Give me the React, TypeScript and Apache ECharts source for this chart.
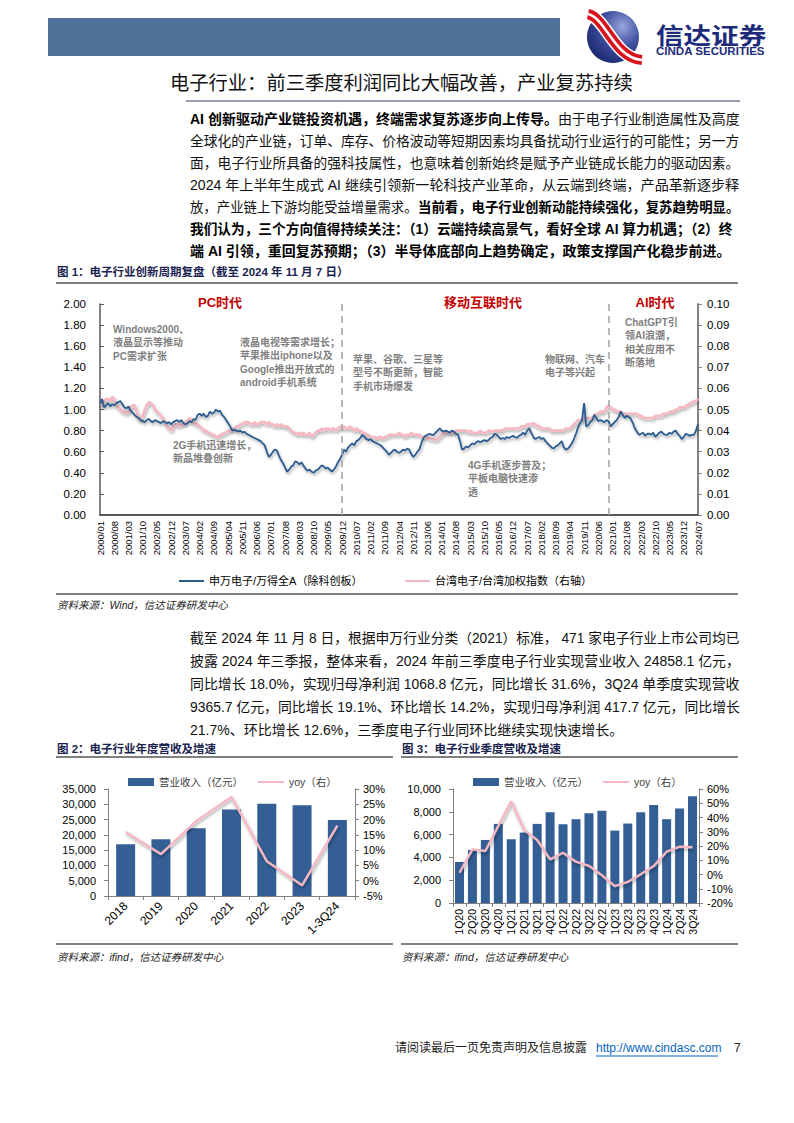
import React, { useEffect, useRef } from 'react';
import * as echarts from 'echarts';

// ---------- Figure 1 data (monthly, 2000/01 - 2024/07) ----------
const monthLabels: string[] = [];
for (let y = 2000; y <= 2024; y++) {
  for (let m = 1; m <= 12; m++) {
    if (y === 2024 && m > 7) break;
    monthLabels.push(`${y}/${String(m).padStart(2, '0')}`);
  }
}

// 申万电子/万得全A（除科创板）
const swElecRatio = [
  1.05, 1.10, 1.02, 1.04, 1.06, 1.03, 1.05, 1.04, 1.06, 1.07, 1.08, 1.05,
  1.02, 1.01, 1.03, 0.99, 0.97, 0.95, 0.93, 0.92, 0.90, 0.89, 0.88, 0.90,
  0.91, 0.89, 0.88, 0.90, 0.89, 0.88, 0.87, 0.89, 0.88, 0.87, 0.88, 0.86,
  0.88, 0.89, 0.90, 0.88, 0.90, 0.87, 0.86, 0.87, 0.89, 0.88, 0.91, 0.90,
  0.95, 0.96, 0.94, 0.96, 0.93, 0.94, 0.98, 0.96, 0.97, 1.00, 0.98, 0.99,
  0.95, 0.93, 0.90, 0.87, 0.84, 0.80, 0.81, 0.80, 0.79, 0.80, 0.78, 0.79,
  0.77, 0.76, 0.75, 0.74, 0.73, 0.72, 0.71, 0.70, 0.68, 0.66, 0.60, 0.55,
  0.57, 0.60, 0.62, 0.61, 0.56, 0.52, 0.49, 0.45, 0.41, 0.43, 0.46, 0.47,
  0.51, 0.50, 0.48, 0.50, 0.47, 0.44, 0.42, 0.43, 0.41, 0.40, 0.42, 0.43,
  0.45, 0.47, 0.46, 0.44, 0.45, 0.43, 0.41, 0.43, 0.46, 0.50, 0.53, 0.57,
  0.62, 0.60, 0.64, 0.66, 0.68, 0.66, 0.70, 0.71, 0.73, 0.76, 0.74, 0.72,
  0.71, 0.72, 0.70, 0.69, 0.68, 0.67, 0.66, 0.64, 0.62, 0.60, 0.57, 0.59,
  0.61, 0.62, 0.60, 0.59, 0.60, 0.62, 0.61, 0.63, 0.62, 0.58, 0.55, 0.57,
  0.60, 0.62, 0.68, 0.73, 0.75, 0.76, 0.77, 0.76, 0.76, 0.78, 0.80, 0.82,
  0.80, 0.79, 0.80, 0.79, 0.78, 0.80, 0.79, 0.77, 0.76, 0.70, 0.62, 0.63,
  0.65, 0.64, 0.66, 0.68, 0.67, 0.69, 0.70, 0.69, 0.70, 0.71, 0.70, 0.71,
  0.73, 0.74, 0.77, 0.76, 0.74, 0.72, 0.73, 0.72, 0.74, 0.73, 0.74, 0.75,
  0.74, 0.73, 0.75, 0.76, 0.78, 0.76, 0.80, 0.82, 0.78, 0.74, 0.72, 0.73,
  0.74, 0.72, 0.73, 0.70, 0.68, 0.66, 0.64, 0.63, 0.65, 0.66, 0.68, 0.70,
  0.64, 0.62, 0.63, 0.65, 0.68, 0.72, 0.77, 0.83, 0.87, 0.90, 1.06, 0.84,
  0.85, 0.88, 0.90, 0.95, 0.92, 0.89, 0.90, 0.89, 0.88, 0.90, 0.89, 0.84,
  0.86, 0.88, 0.90, 0.93, 0.98, 0.95, 0.92, 0.94, 0.93, 0.91, 0.87, 0.82,
  0.79, 0.76, 0.77, 0.78, 0.75, 0.77, 0.77, 0.76, 0.78, 0.74, 0.76, 0.78,
  0.79, 0.77, 0.76, 0.76, 0.78, 0.77, 0.79, 0.80, 0.77, 0.75, 0.72, 0.74,
  0.77, 0.76, 0.75, 0.76, 0.76, 0.80, 0.86,
];

// 台湾电子/台湾加权指数（右轴）
const twElecRatio = [
  0.053, 0.052, 0.054, 0.055, 0.055, 0.054, 0.056, 0.055, 0.052, 0.051, 0.050, 0.049,
  0.049, 0.048, 0.049, 0.051, 0.052, 0.052, 0.049, 0.046, 0.045, 0.047, 0.050, 0.052,
  0.0535, 0.053, 0.052, 0.050, 0.049, 0.048, 0.047, 0.046, 0.044, 0.042, 0.041, 0.040,
  0.042, 0.043, 0.043, 0.042, 0.043, 0.043, 0.044, 0.045, 0.046, 0.045, 0.044, 0.043,
  0.043, 0.042, 0.041, 0.040, 0.040, 0.039, 0.039, 0.038, 0.038, 0.037, 0.037, 0.038,
  0.038, 0.039, 0.039, 0.040, 0.040, 0.041, 0.041, 0.042, 0.042, 0.043, 0.043, 0.044,
  0.044, 0.044, 0.043, 0.043, 0.044, 0.043, 0.043, 0.044, 0.044, 0.044, 0.043, 0.044,
  0.043, 0.043, 0.042, 0.043, 0.042, 0.043, 0.042, 0.042, 0.042, 0.041, 0.040, 0.039,
  0.039, 0.038, 0.039, 0.038, 0.039, 0.038, 0.038, 0.039, 0.037, 0.038, 0.039, 0.040,
  0.040, 0.041, 0.040, 0.041, 0.041, 0.040, 0.041, 0.041, 0.040, 0.041, 0.042, 0.041,
  0.042, 0.041, 0.041, 0.042, 0.041, 0.040, 0.041, 0.040, 0.040, 0.039, 0.039, 0.038,
  0.038, 0.037, 0.037, 0.037, 0.036, 0.037, 0.037, 0.036, 0.037, 0.037, 0.038, 0.038,
  0.038, 0.038, 0.038, 0.039, 0.038, 0.038, 0.037, 0.038, 0.038, 0.039, 0.038, 0.038,
  0.038, 0.038, 0.037, 0.037, 0.037, 0.037, 0.036, 0.036, 0.036, 0.0355, 0.036, 0.037,
  0.038, 0.039, 0.039, 0.039, 0.039, 0.039, 0.039, 0.040, 0.040, 0.040, 0.040, 0.040,
  0.040, 0.039, 0.040, 0.039, 0.039, 0.039, 0.039, 0.040, 0.039, 0.039, 0.039, 0.040,
  0.040, 0.039, 0.040, 0.040, 0.040, 0.040, 0.040, 0.041, 0.041, 0.041, 0.041, 0.041,
  0.041, 0.041, 0.041, 0.042, 0.042, 0.042, 0.043, 0.043, 0.043, 0.0435, 0.043, 0.042,
  0.042, 0.041, 0.041, 0.041, 0.041, 0.041, 0.040, 0.040, 0.040, 0.040, 0.040, 0.040,
  0.040, 0.041, 0.041, 0.041, 0.042, 0.043, 0.044, 0.045, 0.045, 0.045, 0.046, 0.046,
  0.046, 0.046, 0.046, 0.047, 0.048, 0.048, 0.049, 0.049, 0.049, 0.051, 0.052, 0.051,
  0.050, 0.050, 0.049, 0.049, 0.049, 0.048, 0.048, 0.048, 0.048, 0.048, 0.048, 0.048,
  0.048, 0.047, 0.047, 0.046, 0.046, 0.046, 0.046, 0.046, 0.046, 0.047, 0.047, 0.047,
  0.047, 0.048, 0.048, 0.048, 0.049, 0.049, 0.049, 0.050, 0.050, 0.051, 0.051, 0.051,
  0.052, 0.052, 0.053, 0.053, 0.054, 0.054, 0.055,
];

const eraDividers = ['2009/12', '2020/11'];

// ---------- Figure 2 data ----------
const years = ['2018', '2019', '2020', '2021', '2022', '2023', '1-3Q24'];
const annualRevenue = [16900, 18600, 22200, 28300, 30200, 29700, 24858.1];
const annualYoy = [15.9, 8.7, 19.5, 27.4, 6.4, -1.5, 18.0];

// ---------- Figure 3 data ----------
const quarters = ['1Q20', '2Q20', '3Q20', '4Q20', '1Q21', '2Q21', '3Q21', '4Q21', '1Q22', '2Q22',
  '3Q22', '4Q22', '1Q23', '2Q23', '3Q23', '4Q23', '1Q24', '2Q24', '3Q24'];
const quarterRevenue = [3600, 4650, 5530, 6940, 5590, 6180, 6940, 7970, 6910, 7350,
  7880, 8090, 6350, 6970, 7970, 8590, 7350, 8290, 9365.7];
const quarterYoy = [1.2, 17.6, 16.5, 34.1, 51.3, 31.3, 24.2, 10.6, 15.3, 9.0,
  6.1, -0.5, -8.2, -5.2, 0.2, 5.9, 16.0, 19.5, 19.1];

// ---------- Texts ----------
const para1: [string, boolean][][] = [
  [['AI 创新驱动产业链投资机遇，终端需求复苏逐步向上传导。', true], ['由于电子行业制造属性及高度', false]],
  [['全球化的产业链，订单、库存、价格波动等短期因素均具备扰动行业运行的可能性；另一方', false]],
  [['面，电子行业所具备的强科技属性，也意味着创新始终是赋予产业链成长能力的驱动因素。', false]],
  [['2024 年上半年生成式 AI 继续引领新一轮科技产业革命，从云端到终端，产品革新逐步释', false]],
  [['放，产业链上下游均能受益增量需求。', false], ['当前看，电子行业创新动能持续强化，复苏趋势明显。', true]],
  [['我们认为，三个方向值得持续关注：（1）云端持续高景气，看好全球 AI 算力机遇；（2）终', true]],
  [['端 AI 引领，重回复苏预期；（3）半导体底部向上趋势确定，政策支撑国产化稳步前进。', true]],
];
const para2 = [
  '截至 2024 年 11 月 8 日，根据申万行业分类（2021）标准， 471 家电子行业上市公司均已',
  '披露 2024 年三季报，整体来看，2024 年前三季度电子行业实现营业收入 24858.1 亿元，',
  '同比增长 18.0%，实现归母净利润 1068.8 亿元，同比增长 31.6%，3Q24 单季度实现营收',
  '9365.7 亿元，同比增长 19.1%、环比增长 14.2%，实现归母净利润 417.7 亿元，同比增长',
  '21.7%、环比增长 12.6%，三季度电子行业同环比继续实现快速增长。',
];
const annotations = [
  { x: 113, y: 329, lines: ['Windows2000、', '液晶显示等推动', 'PC需求扩张'] },
  { x: 240, y: 342, lines: ['液晶电视等需求增长；', '苹果推出iphone以及', 'Google推出开放式的', 'android手机系统'] },
  { x: 353, y: 359, lines: ['苹果、谷歌、三星等', '型号不断更新，智能', '手机市场爆发'] },
  { x: 173, y: 445, lines: ['2G手机迅速增长，', '新品堆叠创新'] },
  { x: 468, y: 465, lines: ['4G手机逐步普及；', '平板电脑快速渗', '透'] },
  { x: 545, y: 359, lines: ['物联网、汽车', '电子等兴起'] },
  { x: 625, y: 322, lines: ['ChatGPT引', '领AI浪潮，', '相关应用不', '断落地'] },
];
const eras = [
  { x: 220, text: 'PC时代' },
  { x: 483, text: '移动互联时代' },
  { x: 655, text: 'AI时代' },
];

const FONT = "'Liberation Sans', Arial, 'Noto Sans CJK SC', sans-serif";
const BLUE = '#2B5B8F';
const BAR = '#335F95';
const PINK = '#F5B8C3';
const TITLE_C = '#1A2350';
const TEXT_W = 550;

let measureCtx: CanvasRenderingContext2D | null = null;
function measure(text: string, size: number, weight: string) {
  if (!measureCtx) measureCtx = document.createElement('canvas').getContext('2d');
  if (!measureCtx) return text.length * size;
  measureCtx.font = `${weight} ${size}px ${FONT}`;
  return measureCtx.measureText(text).width;
}
function fitScale(w: number, justify: boolean) {
  if (!w) return 1;
  const s = TEXT_W / w;
  if (justify) return Math.max(0.9, Math.min(1.08, s));
  return Math.min(1, Math.max(0.9, s));
}

function txt(x: number, y: number, text: string, s: any = {}) {
  const { scaleX, ...rest } = s;
  return {
    type: 'text', x, y, silent: true,
    scaleX: scaleX ?? 1,
    style: {
      text, fontFamily: FONT, fontSize: 12, fill: '#000', align: 'left', verticalAlign: 'middle',
      ...rest,
    },
  };
}
function hline(x1: number, x2: number, y: number, color = '#000', w = 1) {
  return { type: 'line', silent: true, shape: { x1, y1: y, x2, y2: y }, style: { stroke: color, lineWidth: w } };
}

const shadow = { shadowColor: 'rgba(0,0,0,0.35)', shadowBlur: 3, shadowOffsetX: 1, shadowOffsetY: 2 };

export default function App() {
  const ref = useRef<HTMLDivElement>(null);
  useEffect(() => {
    document.body.style.margin = '0';
    const chart = echarts.init(ref.current!, null, { renderer: 'svg' });

    const graphics: any[] = [];
    // header
    graphics.push({ type: 'rect', silent: true, shape: { x: 48, y: 18, width: 512, height: 38 }, style: { fill: '#4D7199' } });
    graphics.push({
      type: 'circle', silent: true, shape: { cx: 613, cy: 37, r: 26 },
      style: {
        fill: new echarts.graphic.RadialGradient(0.68, 0.3, 0.8, [
          { offset: 0, color: '#9AA6DC' }, { offset: 0.45, color: '#4152A3' }, { offset: 1, color: '#18266B' },
        ]),
      },
    });
    const sw = { x1: 588, y1: 14, cpx1: 606, cpy1: 18, cpx2: 614, cpy2: 58, x2: 642, y2: 60 };
    graphics.push({ type: 'bezierCurve', silent: true, shape: sw, style: { stroke: '#FFFFFF', lineWidth: 13, fill: null } });
    graphics.push({ type: 'bezierCurve', silent: true, shape: sw, style: { stroke: '#D7141D', lineWidth: 10, fill: null } });
    graphics.push({ type: 'bezierCurve', silent: true, shape: sw, style: { stroke: '#FFFFFF', lineWidth: 2.5, fill: null } });
    graphics.push(txt(656, 36, '信达证券', { fontSize: 23, fontWeight: 'bold', fill: '#1D2B7A', scaleX: 1.2 }));
    graphics.push(txt(656, 51, 'CINDA SECURITIES', { fontSize: 11, fontWeight: 'bold', fill: '#1D2B7A', scaleX: 1.05 }));
    // page title
    graphics.push(txt(170, 83, '电子行业：前三季度利润同比大幅改善，产业复苏持续', { fontSize: 19.3, fill: '#111' }));
    graphics.push(hline(186, 740, 101, '#2E3F66', 1));

    // paragraph 1 (justified lines except the last)
    para1.forEach((segs, i) => {
      const t = segs.map(([s, b]) => `{${b ? 'b' : 'n'}|${s}}`).join('');
      const w = segs.reduce((acc, [s, b]) => acc + measure(s, 14, b ? 'bold' : 'normal'), 0);
      graphics.push({
        type: 'text', x: 190, y: 119 + i * 22, silent: true,
        scaleX: fitScale(w, i < para1.length - 1),
        style: {
          text: t, verticalAlign: 'middle', align: 'left',
          rich: {
            b: { fontFamily: FONT, fontSize: 14, fontWeight: 'bold', fill: '#000' },
            n: { fontFamily: FONT, fontSize: 14, fontWeight: 'normal', fill: '#111' },
          },
        },
      });
    });

    // figure 1 title / rules / source
    graphics.push(txt(57, 272, '图 1：电子行业创新周期复盘（截至 2024 年 11 月 7 日）', { fontSize: 11.5, fontWeight: 'bold', fill: TITLE_C }));
    graphics.push(hline(56, 738, 283));
    graphics.push(hline(56, 738, 594));
    graphics.push(txt(57, 605, '资料来源：Wind，信达证券研发中心', { fontSize: 10.5, fontStyle: 'italic', fill: '#222' }));
    eras.forEach((e) => graphics.push(txt(e.x, 302, e.text, { fontSize: 13, fontWeight: 'bold', fill: '#C00000', align: 'center' })));
    annotations.forEach((a) => a.lines.forEach((l, j) =>
      graphics.push(txt(a.x, a.y + j * 13.5, l, { fontSize: 10, fontWeight: 'bold', fill: '#7F7F7F' }))));

    // paragraph 2
    para2.forEach((l, i) => graphics.push(txt(190, 638 + i * 23, l, {
      fontSize: 14, fill: '#111', scaleX: fitScale(measure(l, 14, 'normal'), i < para2.length - 1),
    })));

    // figures 2 & 3 titles / rules / sources
    graphics.push(txt(57, 749, '图 2：电子行业年度营收及增速', { fontSize: 11.5, fontWeight: 'bold', fill: TITLE_C }));
    graphics.push(hline(56, 393, 757));
    graphics.push(hline(56, 393, 944));
    graphics.push(txt(57, 957, '资料来源：ifind，信达证券研发中心', { fontSize: 10.5, fontStyle: 'italic', fill: '#222' }));
    graphics.push(txt(402, 749, '图 3：电子行业季度营收及增速', { fontSize: 11.5, fontWeight: 'bold', fill: TITLE_C }));
    graphics.push(hline(401, 738, 757));
    graphics.push(hline(401, 738, 944));
    graphics.push(txt(402, 957, '资料来源：ifind，信达证券研发中心', { fontSize: 10.5, fontStyle: 'italic', fill: '#222' }));

    // footer
    graphics.push(txt(395, 1048, '请阅读最后一页免责声明及信息披露', { fontSize: 12, fill: '#222' }));
    graphics.push(txt(596, 1048, 'http://www.cindasc.com', { fontSize: 12, fill: '#0563C1' }));
    graphics.push(hline(596, 718, 1056, '#0563C1', 1));
    graphics.push(txt(734, 1048, '7', { fontSize: 12, fill: '#222' }));

    const axisLabel = (size: number) => ({ fontFamily: FONT, fontSize: size, color: '#000' });
    const legendText = { fontFamily: FONT, fontSize: 11, color: '#000', lineHeight: 14 };
    const legendText2 = { fontFamily: FONT, fontSize: 10.5, color: '#404040', lineHeight: 14 };

    const option: any = {
      animation: false,
      graphic: { elements: graphics },
      grid: [
        { left: 100, top: 304, width: 598, height: 211 },
        { left: 108, top: 789, width: 247, height: 107 },
        { left: 453, top: 789, width: 246, height: 114 },
      ],
      legend: [
        { left: 174, top: 569, data: ['申万电子/万得全A（除科创板）'], icon: 'rect', itemWidth: 25, itemHeight: 2, itemGap: 0, textStyle: legendText, selectedMode: false },
        { left: 400, top: 569, data: ['台湾电子/台湾加权指数（右轴）'], icon: 'rect', itemWidth: 25, itemHeight: 2, itemGap: 0, textStyle: legendText, selectedMode: false },
        { left: 123, top: 770, data: ['营业收入（亿元）'], icon: 'rect', itemWidth: 26, itemHeight: 8, textStyle: legendText2, selectedMode: false },
        { left: 253, top: 770, data: ['yoy（右）'], icon: 'rect', itemWidth: 26, itemHeight: 2, textStyle: legendText2, selectedMode: false },
        { left: 468, top: 770, data: ['营业收入（亿元） '], icon: 'rect', itemWidth: 26, itemHeight: 8, textStyle: legendText2, selectedMode: false },
        { left: 598, top: 770, data: ['yoy（右） '], icon: 'rect', itemWidth: 26, itemHeight: 2, textStyle: legendText2, selectedMode: false },
      ],
      xAxis: [
        {
          type: 'category', gridIndex: 0, data: monthLabels, boundaryGap: false,
          axisLine: { lineStyle: { color: '#595959', width: 2 } }, axisTick: { show: false },
          axisLabel: { ...axisLabel(9.5), rotate: 90, interval: 6, margin: 6 },
          splitLine: { show: false },
        },
        {
          type: 'category', gridIndex: 1, data: years,
          axisLine: { lineStyle: { color: '#808080' } }, axisTick: { show: true, length: 4, lineStyle: { color: '#808080' } },
          axisLabel: { ...axisLabel(12), rotate: 45, interval: 0, margin: 8 },
        },
        {
          type: 'category', gridIndex: 2, data: quarters,
          axisLine: { lineStyle: { color: '#808080' } }, axisTick: { show: true, length: 4, lineStyle: { color: '#808080' } },
          axisLabel: { ...axisLabel(10.5), rotate: 90, interval: 0, margin: 6 },
        },
      ],
      yAxis: [
        {
          type: 'value', gridIndex: 0, min: 0, max: 2, interval: 0.2, position: 'left',
          axisLine: { show: true, lineStyle: { color: '#595959', width: 1.5 } },
          axisTick: { show: true, inside: true, length: 4, lineStyle: { color: '#595959' } },
          axisLabel: { ...axisLabel(11.5), margin: 14, formatter: (v: number) => v.toFixed(2) },
          splitLine: { show: false },
        },
        {
          type: 'value', gridIndex: 0, min: 0, max: 0.1, interval: 0.01, position: 'right',
          axisLine: { show: true, lineStyle: { color: '#808080', width: 2 } },
          axisTick: { show: true, length: 4, lineStyle: { color: '#808080' } },
          axisLabel: { ...axisLabel(11.5), margin: 9, formatter: (v: number) => v.toFixed(2) },
          splitLine: { show: false },
        },
        {
          type: 'value', gridIndex: 1, min: 0, max: 35000, interval: 5000, position: 'left',
          axisLine: { show: true, lineStyle: { color: '#808080' } },
          axisTick: { show: true, length: 4, lineStyle: { color: '#808080' } },
          axisLabel: { ...axisLabel(11), margin: 12, formatter: (v: number) => v.toLocaleString('en-US') },
          splitLine: { show: false },
        },
        {
          type: 'value', gridIndex: 1, min: -5, max: 30, interval: 5, position: 'right',
          axisLine: { show: true, lineStyle: { color: '#808080' } },
          axisTick: { show: true, length: 4, lineStyle: { color: '#808080' } },
          axisLabel: { ...axisLabel(11), margin: 8, formatter: (v: number) => `${v}%` },
          splitLine: { show: false },
        },
        {
          type: 'value', gridIndex: 2, min: 0, max: 10000, interval: 2000, position: 'left',
          axisLine: { show: true, lineStyle: { color: '#808080' } },
          axisTick: { show: true, length: 4, lineStyle: { color: '#808080' } },
          axisLabel: { ...axisLabel(11), margin: 12, formatter: (v: number) => v.toLocaleString('en-US') },
          splitLine: { show: false },
        },
        {
          type: 'value', gridIndex: 2, min: -20, max: 60, interval: 10, position: 'right',
          axisLine: { show: true, lineStyle: { color: '#808080' } },
          axisTick: { show: true, length: 4, lineStyle: { color: '#808080' } },
          axisLabel: { ...axisLabel(11), margin: 8, formatter: (v: number) => `${v}%` },
          splitLine: { show: false },
        },
      ],
      series: [
        {
          name: '台湾电子/台湾加权指数（右轴）', type: 'line', xAxisIndex: 0, yAxisIndex: 1,
          data: twElecRatio, showSymbol: false, color: PINK,
          lineStyle: { color: PINK, width: 2.6, ...shadow },
        },
        {
          name: '申万电子/万得全A（除科创板）', type: 'line', xAxisIndex: 0, yAxisIndex: 0,
          data: swElecRatio, showSymbol: false, color: BLUE,
          lineStyle: { color: BLUE, width: 1.8, ...shadow },
          markLine: {
            silent: true, symbol: 'none', label: { show: false },
            lineStyle: { color: '#A6A6A6', type: [7, 5], width: 1.6, shadowBlur: 0, shadowOffsetX: 0, shadowOffsetY: 0 },
            data: eraDividers.map((d) => ({ xAxis: d })),
          },
        },
        {
          name: '营业收入（亿元）', type: 'bar', xAxisIndex: 1, yAxisIndex: 2,
          data: annualRevenue, barWidth: 19, color: BAR, itemStyle: { color: BAR },
        },
        {
          name: 'yoy（右）', type: 'line', xAxisIndex: 1, yAxisIndex: 3,
          data: annualYoy, showSymbol: false, color: PINK, lineStyle: { color: PINK, width: 2.4, ...shadow },
        },
        {
          name: '营业收入（亿元） ', type: 'bar', xAxisIndex: 2, yAxisIndex: 4,
          data: quarterRevenue, barWidth: 9, color: BAR, itemStyle: { color: BAR },
        },
        {
          name: 'yoy（右） ', type: 'line', xAxisIndex: 2, yAxisIndex: 5,
          data: quarterYoy, showSymbol: false, color: PINK, lineStyle: { color: PINK, width: 2.4, ...shadow },
        },
      ],
    };
    chart.setOption(option);
    return () => chart.dispose();
  }, []);
  return <div ref={ref} style={{ width: 794, height: 1123, background: '#fff' }} />;
}
